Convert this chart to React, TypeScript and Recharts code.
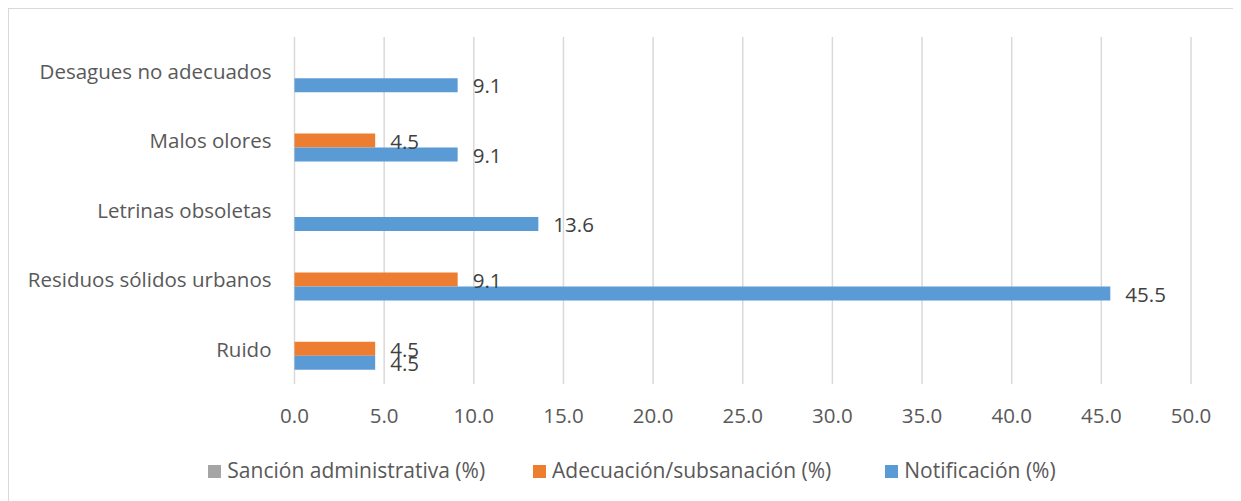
import React from 'react';
import { BarChart, Bar, XAxis, YAxis, CartesianGrid, Legend, LabelList } from 'recharts';

const categories = [
  'Desagues no adecuados',
  'Malos olores',
  'Letrinas obsoletas',
  'Residuos sólidos urbanos',
  'Ruido',
];
const sancion: (number | null)[] = [0, 0, 0, 0, 0];
const adecuacion: (number | null)[] = [null, 4.5, null, 9.1, 4.5];
const notificacion: (number | null)[] = [9.1, 9.1, 13.6, 45.5, 4.5];
const xTicks = [0, 5, 10, 15, 20, 25, 30, 35, 40, 45, 50];

const seriesNames = {
  sancion: 'Sanción administrativa (%)',
  adecuacion: 'Adecuación/subsanación (%)',
  notificacion: 'Notificación (%)',
};
const legendOrder = [seriesNames.sancion, seriesNames.adecuacion, seriesNames.notificacion];

const data = categories.map((name, i) => ({
  name,
  sancion: sancion[i],
  adecuacion: adecuacion[i],
  notificacion: notificacion[i],
}));

const FONT = '"Open Sans", sans-serif';
const FS = 20.5;

const fmt = (v: any) => (v == null || v === 0 ? '' : Number(v).toFixed(1));

const LegendContent = (props: any) => {
  const { payload = [] } = props;
  const items = [...payload].sort(
    (a: any, b: any) => legendOrder.indexOf(a.value) - legendOrder.indexOf(b.value)
  );
  return (
    <div
      style={{
        height: 30,
        display: 'flex',
        justifyContent: 'center',
        alignItems: 'center',
        paddingLeft: 64,
        fontFamily: FONT,
        fontSize: 21,
        color: '#595959',
      }}
    >
      {items.map((p: any, i: number) => (
        <div
          key={i}
          style={{
            display: 'flex',
            alignItems: 'center',
            marginLeft: i === 0 ? 0 : i === 1 ? 48 : 54,
            whiteSpace: 'nowrap',
          }}
        >
          <span
            style={{
              display: 'inline-block',
              width: 13,
              height: 13,
              background: p.color,
              marginRight: 6,
              marginTop: 2,
            }}
          />
          <span>{p.value}</span>
        </div>
      ))}
    </div>
  );
};

export default function App() {
  return (
    <div
      style={{
        width: 1233,
        height: 494,
        border: '1px solid #d9d9d9',
        boxSizing: 'border-box',
        fontFamily: FONT,
        background: '#fff',
      }}
    >
      <BarChart
        width={1231}
        height={492}
        data={data}
        layout="vertical"
        margin={{ top: 28, right: 49, left: 0, bottom: 16 }}
        barCategoryGap="19%"
        barGap={0}
      >
        <CartesianGrid horizontal={false} stroke="#d9d9d9" strokeWidth={1.5} />
        <XAxis
          type="number"
          domain={[0, 50]}
          ticks={xTicks}
          tickFormatter={(v: number) => v.toFixed(1)}
          axisLine={false}
          tickLine={false}
          tickSize={0}
          tickMargin={24}
          height={71}
          interval={0}
          tick={{ fill: '#595959', fontSize: FS, fontFamily: FONT }}
        />
        <YAxis
          type="category"
          dataKey="name"
          width={285.5}
          axisLine={false}
          tickLine={false}
          tickSize={0}
          tickMargin={23}
          interval={0}
          tick={{ fill: '#595959', fontSize: FS, fontFamily: FONT }}
        />
        <Legend verticalAlign="bottom" content={<LegendContent />} />
        <Bar dataKey="sancion" name={seriesNames.sancion} fill="#A5A5A5" isAnimationActive={false}>
          <LabelList dataKey="sancion" position="right" offset={15} formatter={fmt} fill="#404040" fontSize={FS} fontFamily={FONT} />
        </Bar>
        <Bar dataKey="adecuacion" name={seriesNames.adecuacion} fill="#ED7D31" isAnimationActive={false}>
          <LabelList dataKey="adecuacion" position="right" offset={15} formatter={fmt} fill="#404040" fontSize={FS} fontFamily={FONT} dy={1} />
        </Bar>
        <Bar dataKey="notificacion" name={seriesNames.notificacion} fill="#5B9BD5" isAnimationActive={false}>
          <LabelList dataKey="notificacion" position="right" offset={15} formatter={fmt} fill="#404040" fontSize={FS} fontFamily={FONT} dy={1} />
        </Bar>
      </BarChart>
    </div>
  );
}
